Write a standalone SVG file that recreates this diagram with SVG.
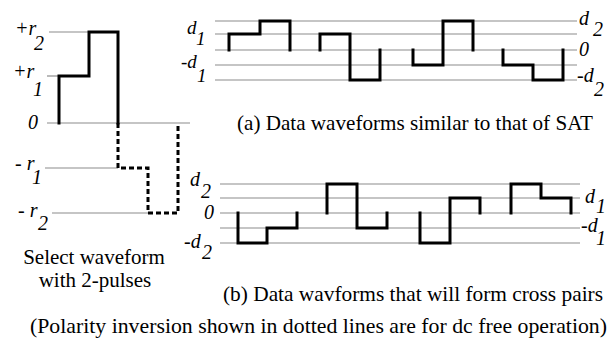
<svg xmlns="http://www.w3.org/2000/svg" width="615" height="344" viewBox="0 0 615 344">
<style>
.grid{stroke:#8c8c8c;stroke-width:1.2;fill:none}
.wave{stroke:#000;stroke-width:3;fill:none;stroke-linejoin:miter;stroke-linecap:square}
.dot{stroke:#000;stroke-width:3;fill:none;stroke-dasharray:5 3}
.lbl{font-family:"Liberation Serif","Times New Roman",serif;font-style:italic;font-size:20px;fill:#000}
.sm{font-size:19px}
.cap{font-family:"Liberation Serif","Times New Roman",serif;font-size:21px;fill:#000}
</style>
<rect width="615" height="344" fill="#fff"/>
<g id="select-waveform">
<g class="grid">
<line x1="49" y1="32" x2="118" y2="32"/>
<line x1="47" y1="76" x2="59" y2="76"/>
<line x1="47" y1="123" x2="190" y2="123"/>
<line x1="45" y1="168" x2="118" y2="168"/>
<line x1="52" y1="213" x2="148" y2="213"/>
</g>
<path class="wave" d="M59,123 V76 H89 V32 H118 V123"/>
<path class="dot" d="M118,123 V168 H148 V213 H178 V123"/>
<text class="lbl" x="15" y="35">+r<tspan x="34" y="50">2</tspan></text>
<text class="lbl" x="13" y="78">+r<tspan x="33" y="96">1</tspan></text>
<text class="lbl" x="28" y="129">0</text>
<text class="lbl" x="15" y="170">- r<tspan x="32" y="184">1</tspan></text>
<text class="lbl" x="18" y="217">- r<tspan x="38" y="230">2</tspan></text>
<text class="cap" x="94" y="264" text-anchor="middle">Select waveform</text>
<text class="cap" x="95" y="287" text-anchor="middle">with 2-pulses</text>
</g>
<g id="panel-a">
<g class="grid">
<line x1="215" y1="21" x2="577" y2="21"/>
<line x1="215" y1="34" x2="577" y2="34"/>
<line x1="215" y1="50" x2="577" y2="50"/>
<line x1="215" y1="65" x2="577" y2="65"/>
<line x1="215" y1="80" x2="577" y2="80"/>
</g>
<path class="wave" d="M229,50 V34 H260 V21 H290 V50"/>
<path class="wave" d="M320,50 V34 H350 V80 H380 V50"/>
<path class="wave" d="M413,50 V65 H443 V21 H473 V50"/>
<path class="wave" d="M503,50 V65 H533 V80 H563 V50"/>
<text class="lbl sm" x="187" y="34">d<tspan x="196" y="45">1</tspan></text>
<text class="lbl sm" x="181" y="68">-d<tspan x="197" y="82">1</tspan></text>
<text class="lbl" x="579" y="25">d<tspan x="593" y="36">2</tspan></text>
<text class="lbl" x="579" y="56">0</text>
<text class="lbl" x="577" y="82">-d<tspan x="594" y="96">2</tspan></text>
<text class="cap" x="237" y="130" textLength="356" lengthAdjust="spacingAndGlyphs">(a) Data waveforms similar to that of SAT</text>
</g>
<g id="panel-b">
<g class="grid">
<line x1="220" y1="184" x2="580" y2="184"/>
<line x1="220" y1="198" x2="580" y2="198"/>
<line x1="220" y1="213" x2="580" y2="213"/>
<line x1="220" y1="228" x2="580" y2="228"/>
<line x1="220" y1="243" x2="580" y2="243"/>
</g>
<path class="wave" d="M238,213 V243 H267 V228 H297 V213"/>
<path class="wave" d="M327,213 V184 H357 V228 H387 V213"/>
<path class="wave" d="M420,213 V243 H450 V198 H480 V213"/>
<path class="wave" d="M511,213 V184 H541 V198 H571 V213"/>
<text class="lbl" x="190" y="186">d<tspan x="201" y="198">2</tspan></text>
<text class="lbl" x="204" y="219">0</text>
<text class="lbl" x="184" y="248">-d<tspan x="202" y="259">2</tspan></text>
<text class="lbl" x="585" y="203">d<tspan x="596" y="213">1</tspan></text>
<text class="lbl" x="581" y="232">-d<tspan x="596" y="245">1</tspan></text>
<text class="cap" x="223" y="301" textLength="380" lengthAdjust="spacingAndGlyphs">(b) Data wavforms that will form cross pairs</text>
</g>
<g id="note">
<text class="cap" x="30" y="333" textLength="577" lengthAdjust="spacingAndGlyphs">(Polarity inversion shown in dotted lines are for dc free operation)</text>
</g>
<g id="connectors"/>
</svg>
